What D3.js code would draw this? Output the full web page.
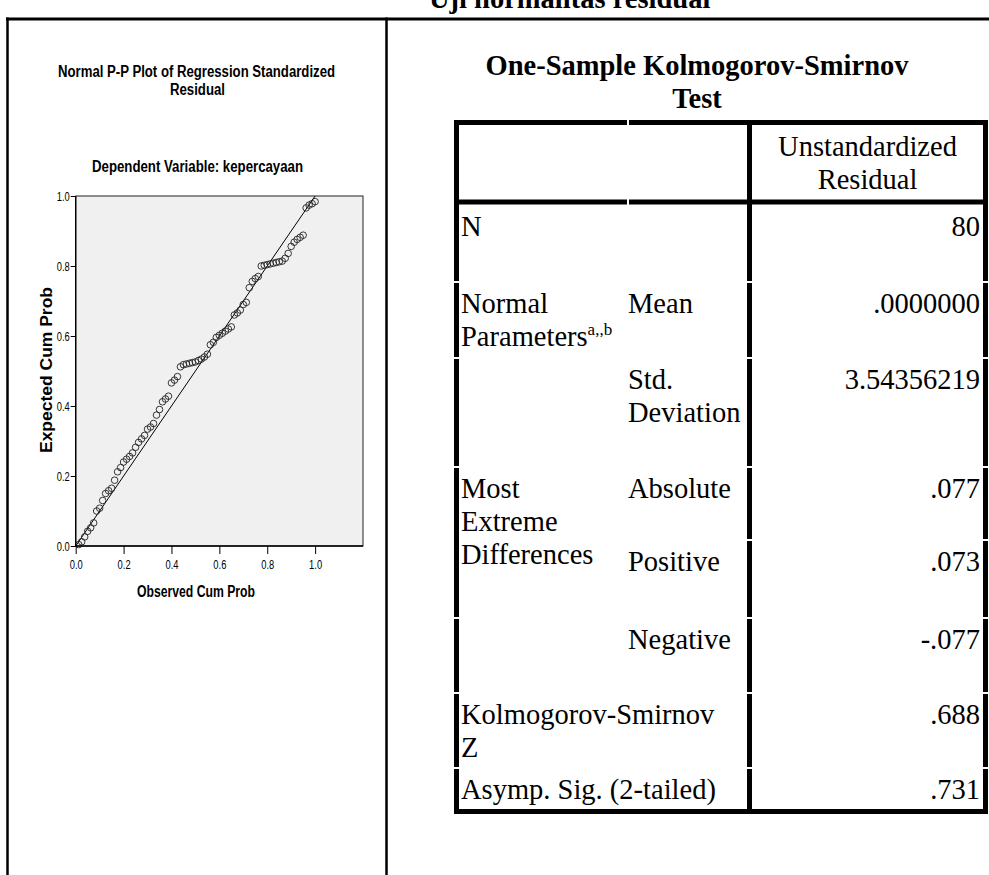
<!DOCTYPE html>
<html>
<head>
<meta charset="utf-8">
<script src="https://cdn.jsdelivr.net/npm/d3@7"></script>
<style>
  body { margin: 0; background: #fff; }
  svg { display: block; }
</style>
</head>
<body>
<svg id="chart"></svg>
<script>
// P-P plot points (observed vs expected cumulative probability)
const observedCumProb = [
  0.0125, 0.025, 0.0375, 0.05, 0.0625, 0.075, 0.0875, 0.1, 0.1125, 0.125,
  0.1375, 0.15, 0.1625, 0.175, 0.1875, 0.2, 0.2125, 0.225, 0.2375, 0.25,
  0.2625, 0.275, 0.2875, 0.3, 0.3125, 0.325, 0.3375, 0.35, 0.3625, 0.375,
  0.3875, 0.4, 0.4125, 0.425, 0.4375, 0.45, 0.4625, 0.475, 0.4875, 0.5,
  0.5125, 0.525, 0.5375, 0.55, 0.5625, 0.575, 0.5875, 0.6, 0.6125, 0.625,
  0.6375, 0.65, 0.6625, 0.675, 0.6875, 0.7, 0.7125, 0.725, 0.7375, 0.75,
  0.7625, 0.775, 0.7875, 0.8, 0.8125, 0.825, 0.8375, 0.85, 0.8625, 0.875,
  0.8875, 0.9, 0.9125, 0.925, 0.9375, 0.95, 0.9625, 0.975, 0.9875, 1.0
];
const expectedCumProb = [
  0.004, 0.012, 0.026, 0.042, 0.052, 0.066, 0.100, 0.108, 0.130, 0.150,
  0.158, 0.165, 0.188, 0.212, 0.224, 0.240, 0.248, 0.256, 0.266, 0.282,
  0.296, 0.306, 0.316, 0.334, 0.340, 0.350, 0.374, 0.390, 0.412, 0.420,
  0.428, 0.466, 0.474, 0.484, 0.512, 0.518, 0.520, 0.522, 0.524, 0.526,
  0.530, 0.534, 0.540, 0.548, 0.575, 0.582, 0.596, 0.602, 0.608, 0.614,
  0.620, 0.626, 0.660, 0.666, 0.674, 0.690, 0.696, 0.738, 0.756, 0.764,
  0.770, 0.800, 0.802, 0.804, 0.806, 0.808, 0.810, 0.812, 0.814, 0.822,
  0.836, 0.856, 0.868, 0.876, 0.882, 0.888, 0.966, 0.974, 0.978, 0.984
];
const axisTicks = [0, 0.2, 0.4, 0.6, 0.8, 1.0];

// One-Sample K-S table
const headerLines = ['Unstandardized', 'Residual'];
const groupLabels = [
  ['N'], ['Normal', 'Parameters'], [], ['Most', 'Extreme', 'Differences'],
  [], [], ['Kolmogorov-Smirnov', 'Z'], ['Asymp. Sig. (2-tailed)']
];
const statLabels = [
  [], ['Mean'], ['Std.', 'Deviation'], ['Absolute'], ['Positive'], ['Negative'], [], []
];
const statValues = ['80', '.0000000', '3.54356219', '.077', '.073', '-.077', '.688', '.731'];
const paramNote = 'a,,b';

const W = 989, H = 875;
const serif = '"Liberation Serif", "Times New Roman", serif';
const sans = '"Liberation Sans", Arial, sans-serif';

const svg = d3.select('#chart')
  .attr('width', W)
  .attr('height', H)
  .attr('viewBox', [0, 0, W, H]);

// condensed sans text (the chart image is squeezed horizontally)
function sansText(g, x, y, txt, size, len, bold = true, anchor = 'middle') {
  return g.append('text')
    .attr('x', x).attr('y', y)
    .attr('font-family', sans)
    .attr('font-size', size)
    .attr('font-weight', bold ? 'bold' : 'normal')
    .attr('text-anchor', anchor)
    .attr('textLength', len)
    .attr('lengthAdjust', 'spacingAndGlyphs')
    .text(txt);
}

// caption and page table
svg.append('text')
  .attr('x', 429).attr('y', 7.5)
  .attr('font-family', serif).attr('font-weight', 'bold').attr('font-size', 28.5)
  .text('Uji normalitas residual');

const page = svg.append('g').attr('stroke', '#000').attr('fill', 'none');
page.append('line').attr('x1', 6).attr('x2', W).attr('y1', 19).attr('y2', 19).attr('stroke-width', 3);
page.append('line').attr('x1', 7.5).attr('x2', 7.5).attr('y1', 17.5).attr('y2', H).attr('stroke-width', 2.5);
page.append('line').attr('x1', 386.5).attr('x2', 386.5).attr('y1', 17.5).attr('y2', H).attr('stroke-width', 2.5);

// ---- Normal P-P plot ----
const chart = svg.append('g');
sansText(chart, 196.5, 76.5, 'Normal P-P Plot of Regression Standardized', 16, 277);
sansText(chart, 197.5, 95, 'Residual', 16, 55);
sansText(chart, 197.5, 171.5, 'Dependent Variable: kepercayaan', 17, 211);

const x = d3.scaleLinear([0, 1.2], [75.7, 363]);
const y = d3.scaleLinear([0, 1], [546, 196]);

chart.append('rect')
  .attr('x', x(0)).attr('y', y(1))
  .attr('width', x(1.2) - x(0)).attr('height', y(0) - y(1))
  .attr('fill', '#f0f0f0').attr('stroke', '#222').attr('stroke-width', 1);

chart.append('line')
  .attr('x1', x(0)).attr('y1', y(0))
  .attr('x2', x(1)).attr('y2', y(1))
  .attr('stroke', '#000').attr('stroke-width', 1);

chart.append('g')
  .selectAll('circle')
  .data(d3.range(observedCumProb.length))
  .join('circle')
  .attr('cx', (i) => x(observedCumProb[i]))
  .attr('cy', (i) => y(expectedCumProb[i]))
  .attr('r', 3.3)
  .attr('fill', 'none')
  .attr('stroke', '#222')
  .attr('stroke-width', 0.9);

const styleAxis = (g) => {
  g.select('.domain').remove();
  g.selectAll('.tick line').attr('stroke', '#000');
  g.selectAll('.tick text')
    .attr('fill', '#000')
    .attr('font-family', sans)
    .attr('font-size', 13)
    .attr('textLength', 13)
    .attr('lengthAdjust', 'spacingAndGlyphs');
};

chart.append('g')
  .attr('transform', `translate(${x(0)},0)`)
  .call(d3.axisLeft(y).tickValues(axisTicks).tickFormat(d3.format('.1f')).tickSize(5).tickPadding(1))
  .call(styleAxis);

chart.append('g')
  .attr('transform', `translate(0,${y(0)})`)
  .call(d3.axisBottom(x).tickValues(axisTicks).tickFormat(d3.format('.1f')).tickSize(8).tickPadding(5.5))
  .call(styleAxis);

// axis lines drawn heavier than the frame
chart.append('line').attr('x1', x(0)).attr('x2', x(0)).attr('y1', y(0)).attr('y2', y(1)).attr('stroke', '#000').attr('stroke-width', 1.4);
chart.append('line').attr('x1', x(0)).attr('x2', x(1.2)).attr('y1', y(0)).attr('y2', y(0)).attr('stroke', '#000').attr('stroke-width', 1.4);

sansText(chart, 196, 597, 'Observed Cum Prob', 16, 118);
sansText(chart, 0, 0, 'Expected Cum Prob', 16, 166)
  .attr('transform', 'translate(52,370) rotate(-90)');

// ---- One-Sample K-S table ----
const tbl = { left: 454, top: 120, right: 988, bottom: 814, head: 202, col2: 628, col3: 749.5 };
const rowEdges = [205, 282, 358, 467, 540, 618, 693, 768, 812];
const lineGap = 33;
const bw = 5;

const table = svg.append('g');
const titleX = 697;
[['One-Sample Kolmogorov-Smirnov', 75], ['Test', 108]].forEach(([t, ty]) => {
  table.append('text')
    .attr('x', titleX).attr('y', ty)
    .attr('text-anchor', 'middle')
    .attr('font-family', serif).attr('font-weight', 'bold').attr('font-size', 28.5)
    .text(t);
});

const borders = table.append('g').attr('stroke', '#000').attr('stroke-width', bw).attr('fill', 'none');
borders.append('rect')
  .attr('x', tbl.left + bw / 2).attr('y', tbl.top + bw / 2)
  .attr('width', tbl.right - tbl.left - bw).attr('height', tbl.bottom - tbl.top - bw);
borders.append('line').attr('x1', tbl.left).attr('x2', tbl.right).attr('y1', tbl.head).attr('y2', tbl.head);
borders.append('line').attr('x1', tbl.col3).attr('x2', tbl.col3).attr('y1', tbl.top).attr('y2', tbl.bottom);

// small white gaps where the exported cell borders meet
const notches = table.append('g').attr('fill', '#fff');
rowEdges.slice(1, -1).forEach((ry) => {
  const xs = ry === 540 ? [tbl.col3, tbl.right - bw / 2] : [tbl.left + bw / 2, tbl.col3, tbl.right - bw / 2];
  xs.forEach((nx) => notches.append('rect').attr('x', nx - 3).attr('y', ry - 1).attr('width', 6).attr('height', 2));
});
[tbl.top + bw / 2, tbl.head].forEach((ny) => {
  notches.append('rect').attr('x', tbl.col2 - 1).attr('y', ny - 3).attr('width', 2).attr('height', 6);
});

const cellText = (tx, ty, txt, anchor = 'start') =>
  table.append('text')
    .attr('x', tx).attr('y', ty)
    .attr('text-anchor', anchor)
    .attr('font-family', serif).attr('font-size', 28.5)
    .attr('fill', '#000')
    .text(txt);

const col3Mid = (tbl.col3 + bw / 2 + tbl.right - bw) / 2;
headerLines.forEach((t, j) => cellText(col3Mid, 156 + j * lineGap, t, 'middle'));

statValues.forEach((v, i) => {
  const base = rowEdges[i] + 31;
  groupLabels[i].forEach((t, j) => {
    const el = cellText(tbl.left + 7, base + j * lineGap, t);
    if (t === 'Parameters') {
      el.append('tspan').attr('dy', -11).attr('font-size', 17).text(paramNote);
    }
  });
  statLabels[i].forEach((t, j) => cellText(tbl.col2, base + j * lineGap, t));
  cellText(tbl.right - bw - 3, base, v, 'end');
});
</script>
</body>
</html>
